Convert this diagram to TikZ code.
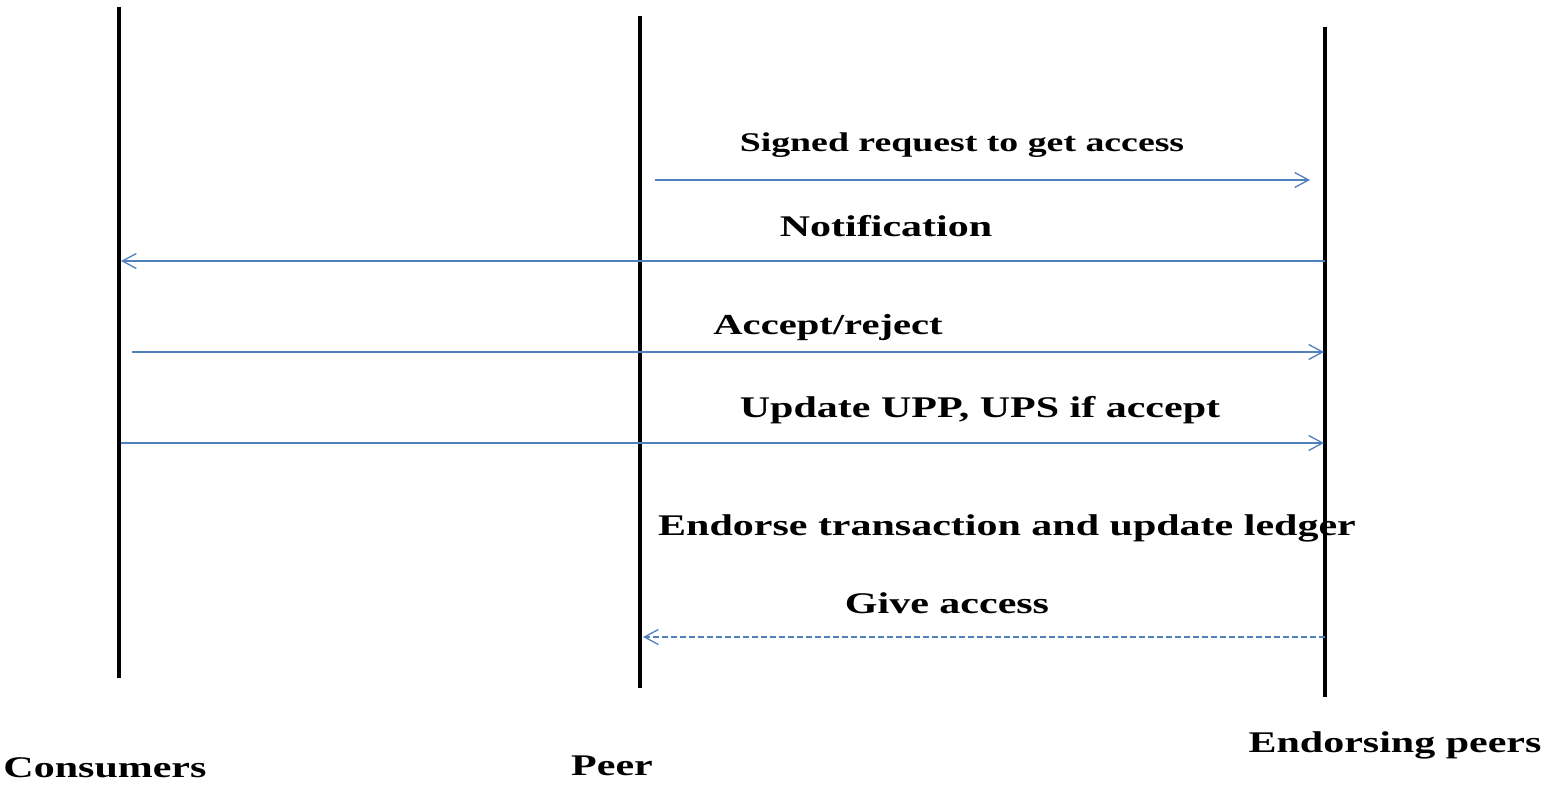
\documentclass[tikz,border=0pt]{standalone}
\usepackage{fontspec}
\setmainfont{Liberation Serif}[FakeStretch=1.4]
\usetikzlibrary{arrows.meta}
\definecolor{msgblue}{RGB}{79,129,189}
\tikzset{
  lifeline/.style={line width=4pt, black},
  msg/.style={draw=msgblue, line width=1.3pt, -{Straight Barb[length=14pt,width=15pt,line width=1.3pt]}},
  reply/.style={msg, dash pattern=on 6pt off 3pt},
  lbl/.style={inner sep=0pt, font=\fontsize{30}{34}\selectfont\bfseries},
  smalllbl/.style={lbl, font=\fontsize{27}{31}\selectfont\bfseries},
}
\begin{document}
\begin{tikzpicture}[x=1pt,y=-1pt]
  \useasboundingbox[fill=white] (0,0) rectangle (1555,789);

  % lifelines
  \coordinate (cTop) at (119,7);   \coordinate (cBot) at (119,678);
  \coordinate (pTop) at (640,16);  \coordinate (pBot) at (640,688);
  \coordinate (eTop) at (1325,27); \coordinate (eBot) at (1325,697);
  \draw[lifeline] (cTop) -- (cBot);
  \draw[lifeline] (pTop) -- (pBot);
  \draw[lifeline] (eTop) -- (eBot);

  % participant names
  \node[lbl] (consumers) at (105,768) {Consumers};
  \node[lbl] (peer) at (612,766) {Peer};
  \node[lbl] (endorsing) at (1395,745) {Endorsing peers};

  % message end points on the lifelines
  \coordinate (m1s) at (655,180);  \coordinate (m1e) at (1310,180);
  \coordinate (m2s) at (1325,261); \coordinate (m2e) at (121,261);
  \coordinate (m3s) at (132,352);  \coordinate (m3e) at (1324,352);
  \coordinate (m4s) at (121,443);  \coordinate (m4e) at (1324,443);
  \coordinate (m6s) at (1325,637); \coordinate (m6e) at (643,637);

  % messages
  \draw[msg] (m1s) -- (m1e);
  \draw[msg] (m2s) -- (m2e);
  \draw[msg] (m3s) -- (m3e);
  \draw[msg] (m4s) -- (m4e);
  \draw[reply] (m6s) -- (m6e);

  % message labels
  \node[smalllbl] (l1) at (962,145) {Signed request to get access};
  \node[lbl] (l2) at (886,226) {Notification};
  \node[lbl, font=\fontsize{29}{33}\selectfont\bfseries] (l3) at (828,328) {Accept/reject};
  \node[lbl] (l4) at (980,410) {Update UPP, UPS if accept};
  \node[lbl] (l5) at (1007,528) {Endorse transaction and update ledger};
  \node[lbl] (l6) at (947,603) {Give access};
\end{tikzpicture}
\end{document}
